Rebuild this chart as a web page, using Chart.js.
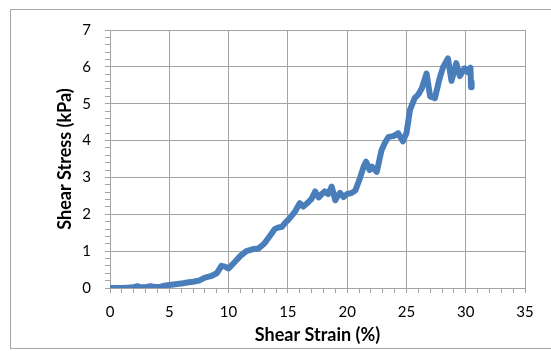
<!DOCTYPE html>
<html>
<head>
<meta charset="utf-8">
<script src="https://cdn.jsdelivr.net/npm/chart.js@4/dist/chart.umd.min.js"></script>
<style>
  body { margin: 0; background: #fff; overflow: hidden; }
  #frame {
    position: absolute; left: 10px; top: 9px;
    width: 560px; height: 338px;
    border: 1px solid #a6a6a6;
  }
  #chart { position: absolute; left: 0; top: 0; }
</style>
</head>
<body>
<div id="frame"></div>
<canvas id="chart" width="551" height="351"></canvas>
<script>
// Shear strain (%)
const strain = [0, 0.5, 1, 1.5, 2, 2.3, 2.6, 3, 3.4, 3.8, 4.2, 4.6, 5, 5.5, 6, 6.5, 7, 7.5, 8, 8.5,
  9, 9.4, 9.7, 10, 10.5, 11, 11.5, 12, 12.5, 13, 13.5, 13.9, 14.2, 14.5, 14.8, 15, 15.3, 15.6,
  16, 16.3, 16.7, 17, 17.3, 17.6, 17.9, 18.1, 18.4, 18.7, 19, 19.2, 19.4, 19.7, 20, 20.4, 20.7,
  21.1, 21.4, 21.6, 21.9, 22.1, 22.5, 22.9, 23.2, 23.5, 23.9, 24.3, 24.7, 25, 25.3, 25.7, 26,
  26.3, 26.7, 27, 27.4, 27.8, 28.1, 28.5, 28.8, 29.2, 29.5, 29.9, 30.2, 30.4, 30.45, 30.5];
// Shear stress (kPa)
const stress = [0, 0, 0, 0.01, 0.02, 0.05, 0.02, 0.02, 0.05, 0.03, 0.03, 0.06, 0.08, 0.1, 0.12, 0.15, 0.17, 0.2, 0.28, 0.32,
  0.4, 0.6, 0.58, 0.53, 0.7, 0.87, 1.0, 1.05, 1.07, 1.2, 1.42, 1.6, 1.64, 1.66, 1.78, 1.84, 1.95, 2.07,
  2.3, 2.21, 2.32, 2.42, 2.62, 2.46, 2.56, 2.62, 2.55, 2.75, 2.38, 2.5, 2.58, 2.47, 2.55, 2.58, 2.65,
  3.0, 3.3, 3.43, 3.2, 3.29, 3.15, 3.74, 3.95, 4.1, 4.12, 4.2, 3.98, 4.2, 4.83, 5.15, 5.25,
  5.42, 5.82, 5.2, 5.15, 5.69, 6.0, 6.23, 5.62, 6.1, 5.75, 5.96, 5.85, 5.98, 5.45, 5.58];

const xMin = 0, xMax = 35, xMajor = 5, xMinor = 1;
const yMin = 0, yMax = 7, yMajor = 1, yMinor = 0.2;

const gridColor = '#a3a3a3';
const lineColor = '#4a7ebb';

function isMajor(v, step) {
  const q = v / step;
  return Math.abs(q - Math.round(q)) < 1e-6;
}

Chart.defaults.font.family = 'Lato, "Liberation Sans", sans-serif';
Chart.defaults.color = '#000';

const points = strain.map((s, i) => ({ x: s, y: stress[i] }));

new Chart(document.getElementById('chart'), {
  type: 'scatter',
  data: {
    datasets: [{
      data: points,
      showLine: true,
      borderColor: lineColor,
      backgroundColor: lineColor,
      borderWidth: 6,
      borderJoinStyle: 'round',
      borderCapStyle: 'round',
      pointRadius: 0,
      tension: 0
    }]
  },
  options: {
    responsive: false,
    animation: false,
    layout: { padding: { left: 0, right: 26, top: 30, bottom: 0 } },
    plugins: { legend: { display: false }, tooltip: { enabled: false } },
    scales: {
      x: {
        type: 'linear',
        min: xMin, max: xMax,
        border: { color: gridColor },
        grid: {
          color: c => isMajor(c.tick.value, xMajor) ? gridColor : 'rgba(0,0,0,0)',
          tickColor: gridColor,
          tickLength: 5
        },
        ticks: {
          stepSize: xMinor,
          autoSkip: false,
          maxRotation: 0,
          padding: 10,
          font: { size: 15 },
          callback: v => isMajor(v, xMajor) ? Math.round(v) : ''
        },
        title: {
          display: true,
          text: 'Shear Strain (%)',
          font: { size: 18, weight: 'bold' },
          padding: { top: 0, bottom: 5 }
        },
        afterFit: s => { s.height = 63; }
      },
      y: {
        type: 'linear',
        min: yMin, max: yMax,
        border: { color: gridColor },
        grid: {
          color: c => isMajor(c.tick.value, yMajor) ? gridColor : 'rgba(0,0,0,0)',
          tickColor: gridColor,
          tickLength: 5
        },
        ticks: {
          stepSize: yMinor,
          autoSkip: false,
          padding: 14,
          font: { size: 15 },
          callback: v => isMajor(v, yMajor) ? Math.round(v) : ''
        },
        title: {
          display: true,
          text: 'Shear Stress (kPa)',
          font: { size: 18, weight: 'bold' },
          padding: { top: 54, bottom: 0 }
        },
        afterFit: s => { s.width = 110; }
      }
    }
  }
});
</script>
</body>
</html>
